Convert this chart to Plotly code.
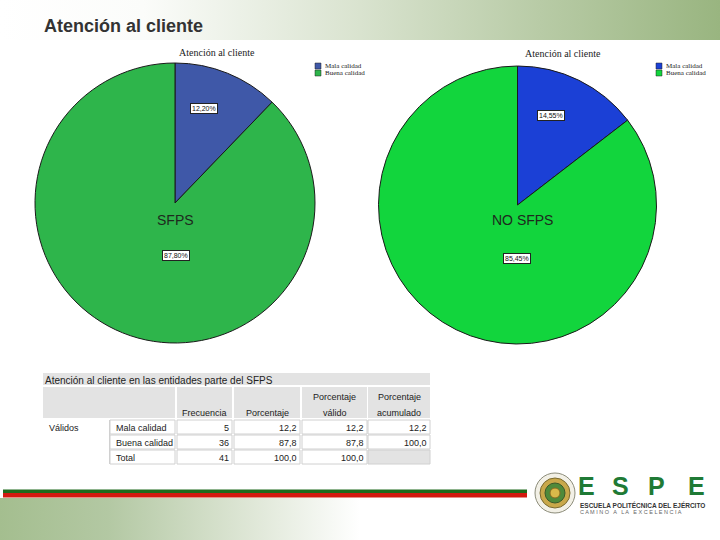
import base64
import plotly.graph_objects as go

# ---------------- data ----------------
categories = ["Mala calidad", "Buena calidad"]
sfps_pct = [12.20, 87.80]
no_sfps_pct = [14.55, 85.45]
pie_names = ["SFPS", "NO SFPS"]
pie_title = "Atención al cliente"
page_title = "Atención al cliente"

table_title = "Atención al cliente en las entidades parte del SFPS"
table_group = "Válidos"
table_rows = ["Mala calidad", "Buena calidad", "Total"]
frecuencia = [5, 36, 41]
porcentaje = [12.2, 87.8, 100.0]
pct_valido = [12.2, 87.8, 100.0]
pct_acumulado = [12.2, 100.0, None]
table_headers = [["Frecuencia"], ["Porcentaje"], ["Porcentaje", "válido"], ["Porcentaje", "acumulado"]]

W, H = 720, 540


def px(x):
    return x / W


def py(y):
    return 1 - y / H


def fmt(v, d=1):
    if v is None:
        return ""
    return f"{v:.{d}f}".replace(".", ",")


fig = go.Figure()

# ---------- pies ----------
pie_specs = [
    dict(values=sfps_pct, cx=175, cy=203, r=140, colors=["#3f58a8", "#2eb54b"]),
    dict(values=no_sfps_pct, cx=517.5, cy=205, r=139, colors=["#1b40d6", "#12d53d"]),
]
for spec in pie_specs:
    cx, cy, r = spec["cx"], spec["cy"], spec["r"]
    fig.add_trace(go.Pie(
        labels=categories, values=spec["values"], sort=False, direction="clockwise",
        rotation=0, textinfo="none", hoverinfo="label+percent", showlegend=False,
        marker=dict(colors=spec["colors"], line=dict(color="#1a1a1a", width=1)),
        domain=dict(x=[px(cx - r), px(cx + r)], y=[py(cy + r), py(cy - r)]),
    ))

annotations = []
shapes = []
images = []


def ann(text, x, y, xanchor="center", yanchor="middle", **kw):
    d = dict(text=text, x=px(x), y=py(y), xref="paper", yref="paper", showarrow=False,
             xanchor=xanchor, yanchor=yanchor)
    d.update(kw)
    annotations.append(d)


# ---------- gradients (header / footer) ----------
def grad_svg(stops):
    st = "".join(f'<stop offset="{o}" stop-color="{c}"/>' for o, c in stops)
    svg = ('<svg xmlns="http://www.w3.org/2000/svg" width="100" height="10" preserveAspectRatio="none">'
           f'<defs><linearGradient id="g" x1="0" y1="0" x2="1" y2="0">{st}</linearGradient></defs>'
           '<rect width="100" height="10" fill="url(#g)"/></svg>')
    return "data:image/svg+xml;base64," + base64.b64encode(svg.encode()).decode()


images.append(dict(source=grad_svg([(0, "#ffffff"), (0.2, "#fbfcfa"), (0.5, "#d9e3cf"), (0.75, "#b8cba6"), (1, "#99b580")]),
                   xref="paper", yref="paper", x=0, y=1, sizex=1, sizey=40 / H,
                   sizing="stretch", layer="below", xanchor="left", yanchor="top"))
images.append(dict(source=grad_svg([(0, "#a4be8f"), (0.15, "#b3c8a3"), (0.35, "#dfe7d7"), (0.5, "#ffffff"), (1, "#ffffff")]),
                   xref="paper", yref="paper", x=0, y=py(498), sizex=1, sizey=42 / H,
                   sizing="stretch", layer="below", xanchor="left", yanchor="top"))

ann(f"<b>{page_title}</b>", 42, 26, xanchor="left",
    font=dict(family="Liberation Sans", size=18, color="#333333"))

# ---------- pie titles / labels / legends ----------
pie_decor = [
    dict(title_xy=(217, 52), name_xy=(175, 220), lab_xy=[(204, 109), (176, 255)],
         leg_xy=(315, 63), colors=pie_specs[0]["colors"], vals=sfps_pct),
    dict(title_xy=(563, 54), name_xy=(522, 220), lab_xy=[(551, 116), (517, 258)],
         leg_xy=(656, 63), colors=pie_specs[1]["colors"], vals=no_sfps_pct),
]
for i, d in enumerate(pie_decor):
    ann(pie_title, *d["title_xy"], font=dict(family="Liberation Serif", size=10, color="#222222"))
    ann(pie_names[i], *d["name_xy"], font=dict(family="Liberation Sans", size=14, color="#1e2a1e"))
    for (lx, ly), v in zip(d["lab_xy"], d["vals"]):
        ann(fmt(v, 2) + "%", lx, ly, bgcolor="#ffffff", bordercolor="#222222", borderwidth=1,
            borderpad=1, font=dict(family="Liberation Sans", size=7, color="#111111"))
    lx0, ly0 = d["leg_xy"]
    for k, cat in enumerate(categories):
        y0 = ly0 + k * 7
        shapes.append(dict(type="rect", xref="paper", yref="paper", x0=px(lx0), x1=px(lx0 + 6),
                           y0=py(y0 + 6), y1=py(y0), fillcolor=d["colors"][k],
                           line=dict(color="#222222", width=0.5)))
        ann(cat, lx0 + 8, y0 + 3, xanchor="left",
            font=dict(family="Liberation Serif", size=7, color="#222222"))

# ---------- table ----------
GRAY = "#e3e3e3"
LINE = "#d0d0d0"
cols = [(43, 109), (110, 175), (177, 232), (234, 300), (302, 367), (368, 430)]
title_y = (373, 385)
head_y = (387, 418)
rows_y = [(420, 434), (435, 449), (450, 464)]
tfont = dict(family="Liberation Sans", size=9, color="#222222")


def rect(x0, x1, y0, y1, fill, line=None):
    shapes.append(dict(type="rect", xref="paper", yref="paper", x0=px(x0), x1=px(x1),
                       y0=py(y1), y1=py(y0), fillcolor=fill, layer="below",
                       line=dict(color=line or fill, width=1 if line else 0)))


rect(43, 430, title_y[0], title_y[1], GRAY)
ann(table_title, 43, 380, xanchor="left", font=dict(family="Liberation Sans", size=10, color="#222222"))
rect(cols[0][0], cols[1][1], head_y[0], head_y[1], GRAY)
for (c0, c1), hdr in zip(cols[2:], table_headers):
    rect(c0, c1, head_y[0], head_y[1], GRAY)
    lines = hdr if len(hdr) == 2 else [""] + hdr
    for j, t in enumerate(lines):
        if t:
            ann(t, (c0 + c1) / 2, 397 + 16 * j, font=tfont)
shapes.append(dict(type="line", xref="paper", yref="paper", x0=px(109.5), x1=px(109.5),
                   y0=py(rows_y[0][0]), y1=py(rows_y[-1][1]), line=dict(color=LINE, width=1)))
ann(table_group, 47, 428, xanchor="left", font=tfont)
for r, (y0, y1) in enumerate(rows_y):
    rect(cols[1][0], cols[1][1], y0, y1, "#ffffff", LINE)
    ann(table_rows[r], cols[1][0] + 4, y1 - 6, xanchor="left", font=tfont)
    vals = [str(frecuencia[r]), fmt(porcentaje[r]), fmt(pct_valido[r]), fmt(pct_acumulado[r])]
    for (c0, c1), v in zip(cols[2:], vals):
        rect(c0, c1, y0, y1, GRAY if v == "" else "#ffffff", LINE)
        if v:
            ann(v, c1 - 1, y1 - 6, xanchor="right", font=tfont)

# ---------- footer lines ----------
shapes.append(dict(type="rect", xref="paper", yref="paper", x0=px(3), x1=px(527), y0=py(493), y1=py(489.5),
                   fillcolor="#1f6a1c", line=dict(width=0)))
shapes.append(dict(type="rect", xref="paper", yref="paper", x0=px(3), x1=px(527), y0=py(497.5), y1=py(493),
                   fillcolor="#d3190f", line=dict(width=0)))

# ---------- logo ----------
for (r_, fill, ln) in [(20, "#f2f0e6", "#8c8c7a"), (15, "#c9a84a", "#7a6a30"), (10, "#4f8a3a", "#3a5a2a"), (5, "#d9b94a", "#8a6a20")]:
    shapes.append(dict(type="circle", xref="paper", yref="paper", x0=px(555 - r_), x1=px(555 + r_),
                       y0=py(493 + r_), y1=py(493 - r_), fillcolor=fill, line=dict(color=ln, width=1)))
for ch, x in zip("ESPE", [586, 620, 656, 696]):
    ann(f"<b>{ch}</b>", x, 486, font=dict(family="Liberation Sans Narrow, Liberation Sans", size=25, color="#1f7a35"))
ann("<b>ESCUELA POLITÉCNICA DEL EJÉRCITO</b>", 578, 504.5, xanchor="left",
    font=dict(family="Liberation Sans", size=6.5, color="#333333"))
ann("C A M I N O   A   L A   E X C E L E N C I A", 578, 512, xanchor="left",
    font=dict(family="Liberation Sans", size=5.5, color="#666666"))

fig.update_layout(width=W, height=H, autosize=False, margin=dict(l=0, r=0, t=0, b=0),
                  paper_bgcolor="#ffffff", plot_bgcolor="#ffffff",
                  annotations=annotations, shapes=shapes, images=images, showlegend=False)
fig.write_html("out.html")
